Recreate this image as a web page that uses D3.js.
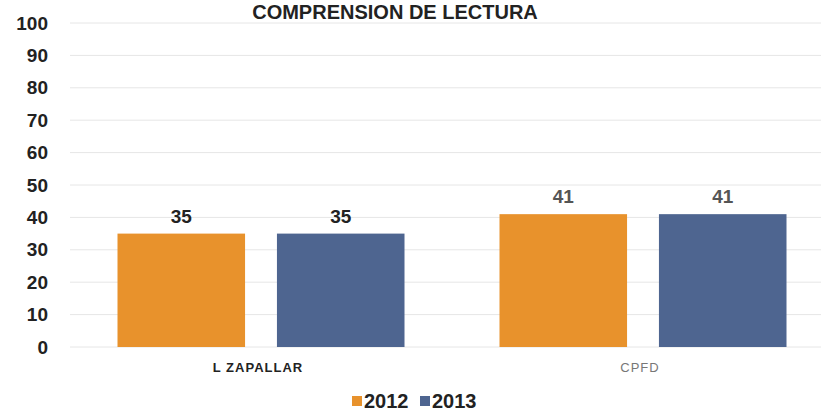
<!DOCTYPE html>
<html>
<head>
<meta charset="utf-8">
<script src="https://cdn.jsdelivr.net/npm/d3@7"></script>
<style>
  body { margin: 0; background: #fff; }
  svg { display: block; font-family: "Liberation Sans", Arial, sans-serif; }
</style>
</head>
<body>
<svg id="chart" width="821" height="416"></svg>
<script>
var categories = ["L ZAPALLAR", "CPFD"];
var years = ["2012", "2013"];
var values2012 = [35, 41];
var values2013 = [35, 41];
var yTicks = [0, 10, 20, 30, 40, 50, 60, 70, 80, 90, 100];
var colors = ["#e8922c", "#4e6590"];

var svg = d3.select("#chart");
var width = 821, height = 416;

var x = d3.scaleBand()
    .domain(categories)
    .range([70, 834])
    .paddingInner(0)
    .paddingOuter(0);

var x1 = d3.scaleBand()
    .domain(years)
    .range([0, 287])
    .paddingInner(0.2);

var y = d3.scaleLinear()
    .domain([0, 100])
    .range([347, 23]);

// gridlines
svg.append("g").selectAll("line")
    .data(yTicks)
    .enter().append("line")
    .attr("x1", 70)
    .attr("x2", width)
    .attr("y1", function(d) { return y(d); })
    .attr("y2", function(d) { return y(d); })
    .attr("stroke", "#e6e6e6")
    .attr("stroke-width", 1);

// y axis labels
var yAxis = d3.axisLeft(y).tickValues(yTicks).tickSize(0).tickPadding(0);
var gy = svg.append("g").attr("transform", "translate(48,0)").call(yAxis);
gy.select(".domain").remove();
gy.selectAll("text")
    .attr("font-size", 19)
    .attr("font-weight", "bold")
    .attr("fill", "#222")
    .attr("font-family", "Liberation Sans, Arial, sans-serif");

// bars
var rows = categories.map(function(c, i) {
    return { cat: c, vals: [values2012[i], values2013[i]] };
});

var groups = svg.append("g").selectAll("g")
    .data(rows)
    .enter().append("g")
    .attr("transform", function(d) {
        return "translate(" + (x(d.cat) + (x.bandwidth() - 287) / 2) + ",0)";
    });

groups.selectAll("rect")
    .data(function(d) { return d.vals.map(function(v, j) { return { yr: years[j], v: v, j: j }; }); })
    .enter().append("rect")
    .attr("x", function(d) { return x1(d.yr); })
    .attr("width", x1.bandwidth())
    .attr("y", function(d) { return y(d.v); })
    .attr("height", function(d) { return y(0) - y(d.v); })
    .attr("fill", function(d) { return colors[d.j]; });

groups.selectAll("text.val")
    .data(function(d, i) { return d.vals.map(function(v, j) { return { yr: years[j], v: v, g: i }; }); })
    .enter().append("text")
    .attr("class", "val")
    .attr("x", function(d) { return x1(d.yr) + x1.bandwidth() / 2; })
    .attr("y", function(d) { return y(d.v) - 11; })
    .attr("text-anchor", "middle")
    .attr("font-size", 19)
    .attr("font-weight", "bold")
    .attr("fill", function(d) { return d.g === 0 ? "#222" : "#555"; })
    .text(function(d) { return d.v; });

// category labels
svg.append("g").selectAll("text")
    .data(categories)
    .enter().append("text")
    .attr("x", function(d) { return x(d) + x.bandwidth() / 2 - 3; })
    .attr("y", 372)
    .attr("text-anchor", "middle")
    .attr("font-size", 13)
    .attr("letter-spacing", 1)
    .attr("font-weight", function(d, i) { return i === 0 ? "bold" : "normal"; })
    .attr("fill", function(d, i) { return i === 0 ? "#222" : "#777"; })
    .text(function(d) { return d; });

// title
svg.append("text")
    .attr("x", 395)
    .attr("y", 19)
    .attr("text-anchor", "middle")
    .attr("font-size", 20)
    .attr("font-weight", "bold")
    .attr("fill", "#222")
    .text("COMPRENSION DE LECTURA");

// legend
var legend = svg.append("g").selectAll("g")
    .data(years)
    .enter().append("g")
    .attr("transform", function(d, i) { return "translate(" + (352 + i * 68) + ",0)"; });
legend.append("rect")
    .attr("x", 0).attr("y", 396).attr("width", 10).attr("height", 10)
    .attr("fill", function(d, i) { return colors[i]; });
legend.append("text")
    .attr("x", 12).attr("y", 408)
    .attr("font-size", 20)
    .attr("font-weight", "bold")
    .attr("fill", "#222")
    .text(function(d) { return d; });
</script>
</body>
</html>
